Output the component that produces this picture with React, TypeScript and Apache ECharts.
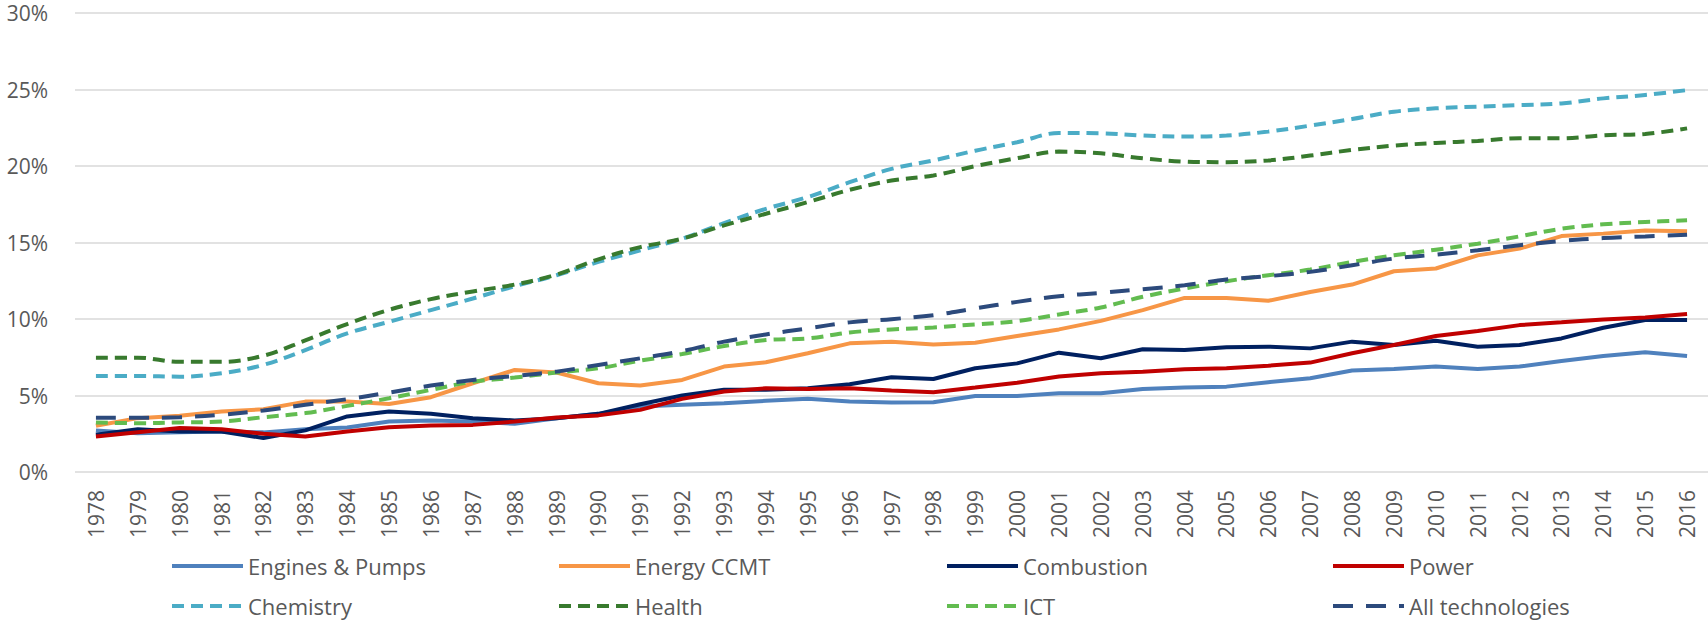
import React, { useEffect, useRef } from "react";
import * as echarts from "echarts";

const years = [
  "1978","1979","1980","1981","1982","1983","1984","1985","1986","1987","1988","1989",
  "1990","1991","1992","1993","1994","1995","1996","1997","1998","1999","2000","2001","2002",
  "2003","2004","2005","2006","2007","2008","2009","2010","2011","2012","2013","2014","2015","2016",
];

const enginesPumps = [
  2.72, 2.54, 2.59, 2.65, 2.59, 2.8, 2.91, 3.3, 3.37, 3.3, 3.15, 3.52,
  3.8, 4.28, 4.39, 4.5, 4.65, 4.78, 4.6, 4.54, 4.56, 4.97, 4.97, 5.15, 5.15,
  5.43, 5.52, 5.58, 5.87, 6.13, 6.63, 6.73, 6.89, 6.73, 6.89, 7.26, 7.58, 7.82, 7.58,
];
const energyCCMT = [
  3.02, 3.52, 3.67, 3.95, 4.1, 4.6, 4.6, 4.45, 4.89, 5.8, 6.67, 6.5,
  5.8, 5.65, 6.02, 6.89, 7.17, 7.76, 8.41, 8.52, 8.34, 8.45, 8.89, 9.32, 9.88,
  10.58, 11.38, 11.38, 11.19, 11.77, 12.25, 13.12, 13.3, 14.16, 14.6, 15.42, 15.58, 15.79, 15.73,
];
const combustion = [
  2.43, 2.8, 2.65, 2.65, 2.22, 2.72, 3.63, 3.95, 3.8, 3.52, 3.37, 3.52,
  3.8, 4.43, 5.0, 5.37, 5.37, 5.47, 5.74, 6.19, 6.08, 6.78, 7.1, 7.8, 7.43,
  8.02, 7.97, 8.15, 8.19, 8.08, 8.52, 8.3, 8.58, 8.19, 8.3, 8.73, 9.43, 9.93, 9.93,
];
const power = [
  2.32, 2.6, 2.87, 2.8, 2.5, 2.32, 2.65, 2.93, 3.04, 3.08, 3.3, 3.56,
  3.7, 4.06, 4.78, 5.26, 5.47, 5.43, 5.47, 5.32, 5.21, 5.52, 5.84, 6.24, 6.45,
  6.56, 6.71, 6.78, 6.95, 7.15, 7.76, 8.3, 8.89, 9.21, 9.6, 9.78, 9.97, 10.1, 10.32,
];
const chemistry = [
  6.28, 6.28, 6.23, 6.45, 7.0, 7.97, 9.06, 9.82, 10.58, 11.34, 12.14, 12.86,
  13.73, 14.49, 15.25, 16.27, 17.2, 17.97, 18.94, 19.81, 20.36, 21.0, 21.55, 22.16, 22.14,
  21.99, 21.92, 21.99, 22.25, 22.64, 23.07, 23.55, 23.77, 23.88, 23.98, 24.09, 24.42, 24.64, 24.96,
];
const health = [
  7.47, 7.47, 7.2, 7.2, 7.6, 8.6, 9.67, 10.6, 11.3, 11.8, 12.25, 12.9,
  13.9, 14.7, 15.25, 16.12, 16.88, 17.64, 18.44, 19.05, 19.38, 19.99, 20.51, 20.94, 20.83,
  20.5, 20.29, 20.25, 20.36, 20.68, 21.05, 21.33, 21.51, 21.64, 21.81, 21.81, 22.01, 22.09, 22.46,
];
const ict = [
  3.24, 3.19, 3.24, 3.3, 3.58, 3.85, 4.32, 4.82, 5.37, 5.9, 6.17, 6.5,
  6.78, 7.28, 7.71, 8.23, 8.62, 8.73, 9.12, 9.32, 9.45, 9.65, 9.86, 10.3, 10.75,
  11.45, 11.99, 12.47, 12.86, 13.23, 13.73, 14.16, 14.53, 14.92, 15.4, 15.9, 16.19, 16.34, 16.45,
];
const allTechnologies = [
  3.54, 3.54, 3.58, 3.74, 4.02, 4.39, 4.76, 5.19, 5.65, 6.02, 6.28, 6.56,
  7.0, 7.43, 7.9, 8.52, 8.99, 9.39, 9.78, 9.99, 10.25, 10.69, 11.12, 11.49, 11.71,
  11.95, 12.21, 12.58, 12.8, 13.08, 13.51, 13.95, 14.21, 14.49, 14.82, 15.1, 15.29, 15.4, 15.51,
];

const yTicks = [0, 5, 10, 15, 20, 25, 30];

const seriesDefs = [
  { name: "Engines & Pumps", data: enginesPumps, color: "#4F81BD", dash: "solid" as any, smooth: false },
  { name: "Energy CCMT", data: energyCCMT, color: "#F79646", dash: "solid" as any, smooth: false },
  { name: "Combustion", data: combustion, color: "#002060", dash: "solid" as any, smooth: false },
  { name: "Power", data: power, color: "#C00000", dash: "solid" as any, smooth: false },
  { name: "Chemistry", data: chemistry, color: "#4BACC6", dash: [12, 7], smooth: true },
  { name: "Health", data: health, color: "#387A2E", dash: [12, 7], smooth: true },
  { name: "ICT", data: ict, color: "#62BC50", dash: [12, 7], smooth: true },
  { name: "All technologies", data: allTechnologies, color: "#2C4A7C", dash: [20, 13], smooth: true },
];

const legendPos = [
  { left: 170, top: 555 },
  { left: 557, top: 555 },
  { left: 945, top: 555 },
  { left: 1331, top: 555 },
  { left: 170, top: 595 },
  { left: 557, top: 595 },
  { left: 945, top: 595 },
  { left: 1331, top: 595 },
];

export default function App() {
  const ref = useRef<HTMLDivElement>(null);
  useEffect(() => {
    if (!ref.current) return;
    const chart = echarts.init(ref.current, undefined, { renderer: "svg" });
    const font = "'Open Sans', 'Noto Sans', sans-serif";
    chart.setOption({
      animation: false,
      backgroundColor: "#ffffff",
      textStyle: { fontFamily: font },
      grid: { left: 75, right: 0, top: 13, bottom: 149, containLabel: false },
      legend: seriesDefs.map((s, i) => ({
        data: [s.name],
        left: legendPos[i].left,
        top: legendPos[i].top,
        itemWidth: 71,
        itemHeight: 3,
        padding: 0,
        itemStyle: { opacity: 0 },
        lineStyle: { width: 4, color: s.color, type: s.dash },
        textStyle: { fontSize: 22, color: "#595959", fontFamily: font },
        selectedMode: false,
      })),
      xAxis: {
        type: "category",
        data: years,
        boundaryGap: true,
        axisLine: { show: false },
        axisTick: { show: false },
        axisLabel: {
          rotate: 90,
          interval: 0,
          margin: 18,
          fontSize: 21,
          color: "#595959",
          fontFamily: font,
        },
      },
      yAxis: {
        type: "value",
        min: yTicks[0],
        max: yTicks[yTicks.length - 1],
        interval: 5,
        axisLine: { show: false },
        axisTick: { show: false },
        splitLine: { lineStyle: { color: "#D9D9D9", width: 1.5 } },
        axisLabel: {
          formatter: "{value}%",
          margin: 27,
          fontSize: 21,
          color: "#595959",
          fontFamily: font,
        },
      },
      series: seriesDefs.map((s) => ({
        name: s.name,
        type: "line",
        data: s.data,
        symbol: "none",
        smooth: s.smooth ? 0.35 : false,
        color: s.color,
        lineStyle: { color: s.color, width: 4, type: s.dash, cap: "butt" },
        emphasis: { disabled: true },
      })),
    });
    return () => chart.dispose();
  }, []);
  return (
    <div
      ref={ref}
      style={{ position: "fixed", left: 0, top: 0, width: 1708, height: 621 }}
    />
  );
}
